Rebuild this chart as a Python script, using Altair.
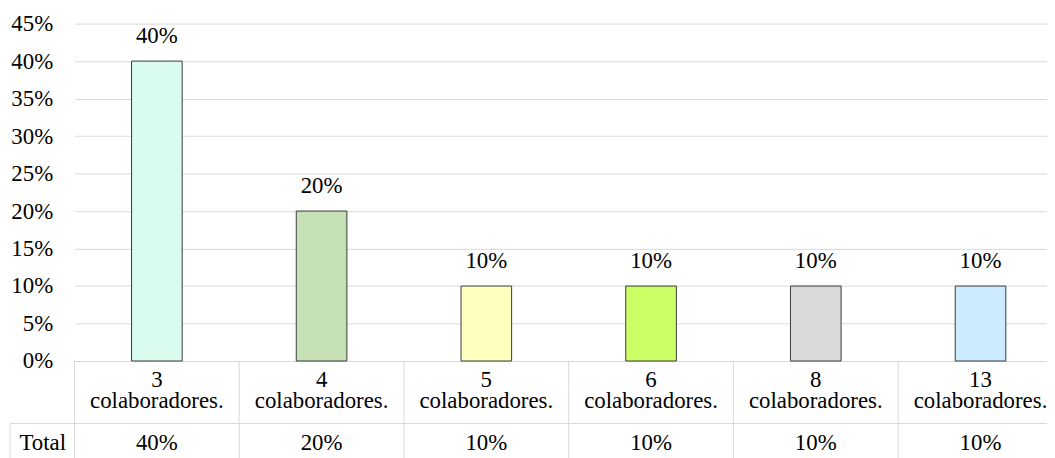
import altair as alt
import pandas as pd

categories = ["3 colaboradores.", "4 colaboradores.", "5 colaboradores.",
              "6 colaboradores.", "8 colaboradores.", "13 colaboradores."]
values = [0.40, 0.20, 0.10, 0.10, 0.10, 0.10]
colors = ["#D9FCEF", "#C5E0B4", "#FFFFC0", "#CCFF66", "#D9D9D9", "#CCEBFF"]
row_label = ["Total"]
y_ticks = [0, 0.05, 0.10, 0.15, 0.20, 0.25, 0.30, 0.35, 0.40, 0.45]

df = pd.DataFrame({"cat": categories, "value": values, "color": colors})
lab_df = pd.DataFrame({"label": row_label})

FONT = "Times New Roman, Liberation Serif, DejaVu Serif, serif"
FS = 23
GRID = "#D9D9D9"

xscale = alt.Scale(domain=categories, range=[0, 996], paddingInner=0, paddingOuter=0)
x = alt.X("cat:N", scale=xscale, axis=None, sort=categories)
y = alt.Y("value:Q",
          scale=alt.Scale(domain=[0, 0.45], nice=False),
          axis=alt.Axis(values=y_ticks, format=".0%", grid=True, gridColor=GRID,
                        gridWidth=1, domain=False, ticks=False, tickSize=0,
                        labelOverlap=False, labelPadding=22, labelFont=FONT,
                        labelFontSize=FS, labelColor="black", title=None))

base = alt.Chart(df)

bars = base.mark_bar(size=51, stroke="#3a3a3a", strokeWidth=1).encode(
    x=x, y=y, color=alt.Color("color:N", scale=None),
)

top_labels = base.mark_text(font=FONT, fontSize=FS, baseline="alphabetic", dy=-18,
                            color="black").encode(
    x=x, y=y, text=alt.Text("value:Q", format=".0%"))

cat_line1 = base.transform_calculate(
    line1="split(datum.cat, ' ')[0]"
).mark_text(font=FONT, fontSize=FS, baseline="alphabetic", color="black").encode(
    x=x, y=alt.value(366), text="line1:N")

cat_line2 = base.transform_calculate(
    line2="split(datum.cat, ' ')[1]"
).mark_text(font=FONT, fontSize=FS, baseline="alphabetic", color="black").encode(
    x=x, y=alt.value(387), text="line2:N")

total_text = base.mark_text(font=FONT, fontSize=FS, baseline="alphabetic",
                            color="black").encode(
    x=x, y=alt.value(430), text=alt.Text("value:Q", format=".0%"))

total_label = alt.Chart(lab_df).mark_text(font=FONT, fontSize=FS, baseline="alphabetic",
                                          color="black").encode(
    x=alt.value(-32), y=alt.value(430), text="label:N")

col_lines = base.mark_rule(color=GRID, strokeWidth=1).encode(
    x=alt.X("cat:N", scale=xscale, axis=None, sort=categories, bandPosition=0),
    y=alt.value(340), y2=alt.value(460))

left_line = alt.Chart(lab_df).mark_rule(color=GRID, strokeWidth=1).encode(
    x=alt.value(-65), y=alt.value(403), y2=alt.value(460))

row_line = alt.Chart(lab_df).mark_rule(color=GRID, strokeWidth=1).encode(
    x=alt.value(-65), x2=alt.value(980), y=alt.value(403))

chart = alt.layer(
    bars, col_lines, left_line, row_line, top_labels, cat_line1, cat_line2,
    total_text, total_label
).properties(
    width=980, height=340,
    autosize=alt.AutoSizeParams(type="none"),
    padding={"left": 67, "top": 14, "right": 0, "bottom": 96},
    background="white",
).configure_view(stroke=None)

chart.save("out.html", embed_options={"renderer": "svg", "actions": False})
